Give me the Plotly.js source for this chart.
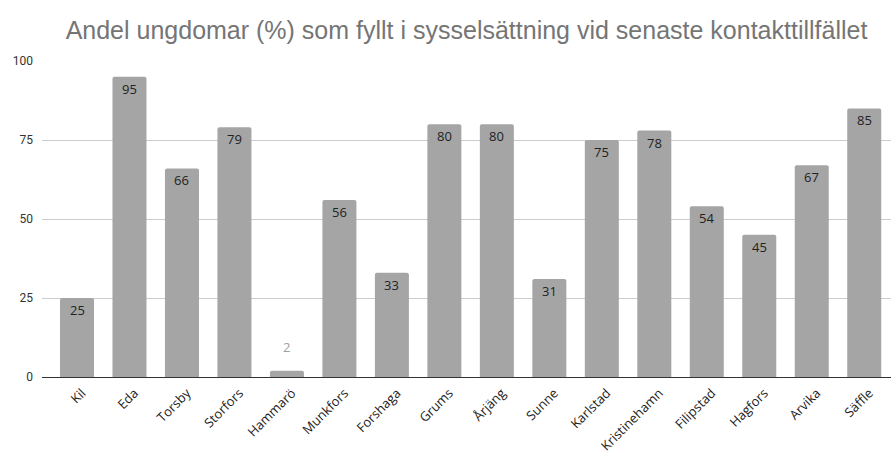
<!DOCTYPE html>
<html>
<head>
<meta charset="utf-8">
<script src="https://cdn.plot.ly/plotly-3.0.1.min.js"></script>
<style>html,body{margin:0;padding:0;background:#fff;}#chart{width:891px;height:454px;}</style>
</head>
<body>
<div id="chart"></div>
<script>
const categories = ["Kil","Eda","Torsby","Storfors","Hammarö","Munkfors","Forshaga","Grums","Årjäng","Sunne","Karlstad","Kristinehamn","Filipstad","Hagfors","Arvika","Säffle"];
const values = [25,95,66,79,2,56,33,80,80,31,75,78,54,45,67,85];
const chartTitle = "Andel ungdomar (%) som fyllt i sysselsättning vid senaste kontakttillfället";
const yTicks = [0,25,50,75,100];

const trace = {
  type: "bar",
  x: categories,
  y: values,
  marker: {color: "#a5a5a5", cornerradius: 2},
  hoverinfo: "x+y"
};

const annotations = categories.map((c, i) => {
  const small = values[i] < 10;
  return {
    x: c, y: values[i], xref: "x", yref: "y",
    text: String(values[i]),
    showarrow: false,
    yanchor: "middle",
    yshift: small ? 24 : -12,
    font: {family: "Open Sans, sans-serif", size: 13, color: small ? "#a0a0a0" : "#222222"}
  };
});

const layout = {
  width: 891, height: 454,
  margin: {l: 42, r: 0, t: 61, b: 77, pad: 0},
  paper_bgcolor: "#ffffff", plot_bgcolor: "#ffffff",
  title: {
    text: chartTitle,
    x: 0.5, xref: "paper", xanchor: "center",
    y: 25, yref: "container", yanchor: "middle",
    font: {family: "Liberation Sans, Arial, sans-serif", size: 25, color: "#757575"}
  },
  bargap: 0.352,
  showlegend: false,
  xaxis: {
    type: "category",
    range: [-0.667, 15.51],
    tickangle: -45,
    tickfont: {family: "Open Sans, sans-serif", size: 13, color: "#222222"},
    showgrid: false, zeroline: false, showline: false, ticks: "",
    ticklabelstandoff: 5,
    ticklabelshift: 5,
    automargin: false
  },
  yaxis: {
    range: [0, 100],
    tickvals: yTicks,
    ticktext: yTicks.map(String),
    tickfont: {family: "Roboto, Arial, sans-serif", size: 12, color: "#333333"},
    gridcolor: "#cccccc", gridwidth: 1,
    zeroline: true, zerolinecolor: "#333333", zerolinewidth: 1,
    showline: false, ticks: "", ticklabelstandoff: 8,
    automargin: false
  },
  annotations: annotations
};

Plotly.newPlot("chart", [trace], layout, {displayModeBar: false, staticPlot: true});
</script>
</body>
</html>
